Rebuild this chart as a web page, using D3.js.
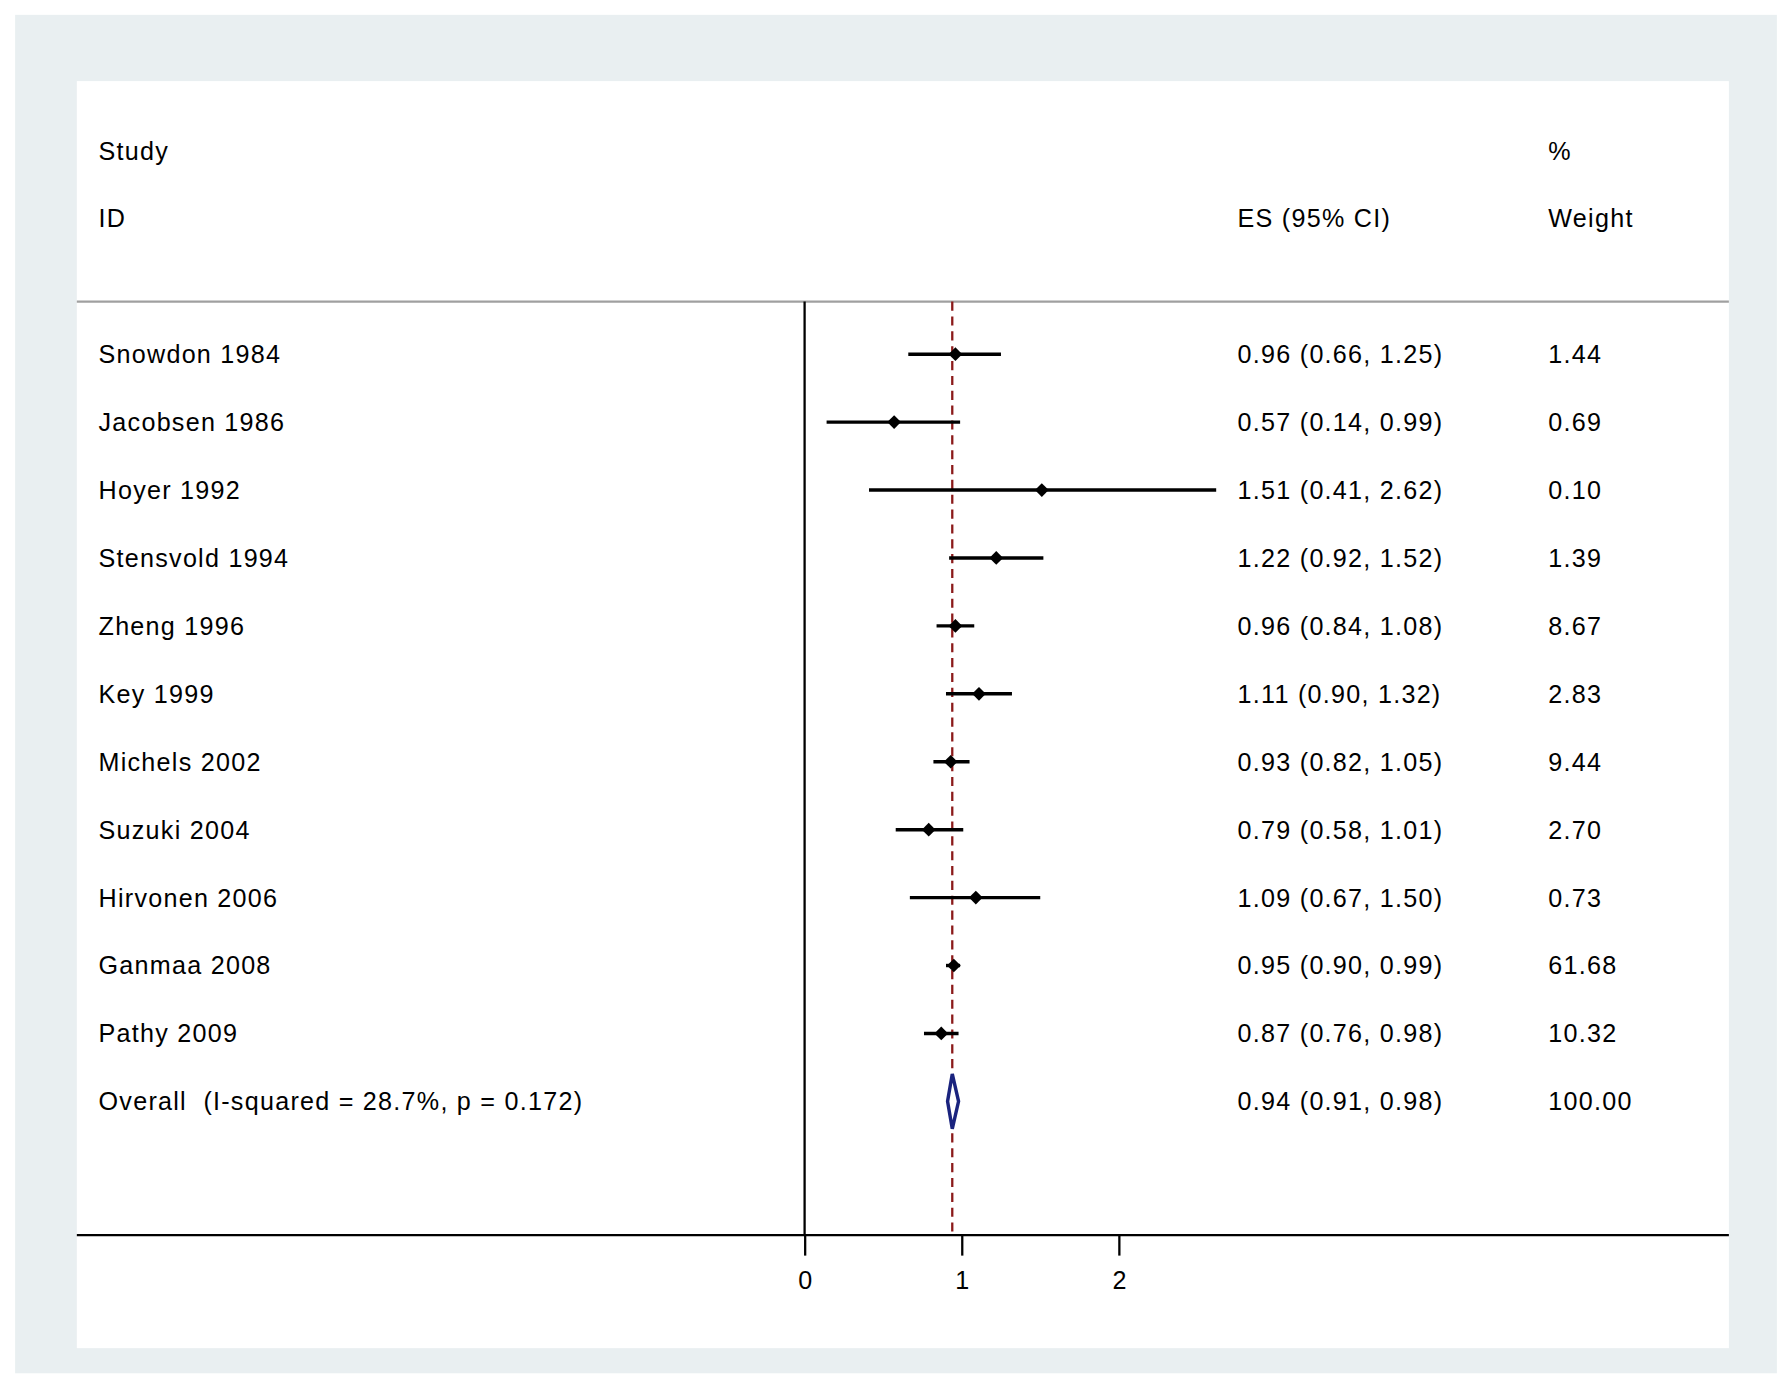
<!DOCTYPE html>
<html><head><meta charset="utf-8">
<script src="https://cdn.jsdelivr.net/npm/d3@7"></script>
<style>body{margin:0;background:#fff}</style></head>
<body><script>
const studies=["Snowdon 1984","Jacobsen 1986","Hoyer 1992","Stensvold 1994","Zheng 1996","Key 1999","Michels 2002","Suzuki 2004","Hirvonen 2006","Ganmaa 2008","Pathy 2009"];
const es=[0.96,0.57,1.51,1.22,0.96,1.11,0.93,0.79,1.09,0.95,0.87];
const lo=[0.66,0.14,0.41,0.92,0.84,0.90,0.82,0.58,0.67,0.90,0.76];
const hi=[1.25,0.99,2.62,1.52,1.08,1.32,1.05,1.01,1.50,0.99,0.98];
const weights=["1.44","0.69","0.10","1.39","8.67","2.83","9.44","2.70","0.73","61.68","10.32"];
const overall={label:"Overall  (I-squared = 28.7%, p = 0.172)",es:0.94,lo:0.91,hi:0.98,w:"100.00"};
const xTicks=[0,1,2];
const fmt=d3.format(".2f");

const svg=d3.select("body").append("svg").attr("width",1792).attr("height",1387).attr("viewBox","0 0 1568 1214");
svg.append("rect").attr("width",1568).attr("height",1214).attr("fill","#fff");
svg.append("rect").attr("x",13).attr("y",13).attr("width",1542).attr("height",1189).attr("fill","#e9eff1");
svg.append("rect").attr("x",67).attr("y",71).attr("width",1446).attr("height",1109).attr("fill","#fff");

const x=d3.scaleLinear().domain([0,2]).range([704,979]);
const rows=studies.concat([overall.label]);
const y=d3.scalePoint().domain(rows).range([310,964]);
const font="Arial, 'Liberation Sans', sans-serif";
const txt=(t,px,py,a)=>svg.append("text").attr("x",px).attr("y",py+2).attr("font-family",font).attr("font-size",22).attr("letter-spacing",1.1).attr("xml:space","preserve").style("white-space","pre").attr("fill","#000").attr("dominant-baseline","middle").attr("text-anchor",a||"start").text(t);

txt("Study",86,132);txt("ID",86,191);txt("ES (95% CI)",1083,191);txt("%",1355,132);txt("Weight",1355,191);
svg.append("line").attr("x1",67).attr("x2",1513).attr("y1",264).attr("y2",264).attr("stroke","#a0a0a0").attr("stroke-width",2);

const ax=svg.append("g").attr("transform","translate(0,1081)").call(d3.axisBottom(x).tickValues(xTicks).tickSize(18).tickFormat(d3.format("d")));
ax.select(".domain").remove();
ax.selectAll("line").attr("stroke","#000").attr("stroke-width",2);
ax.selectAll("text").attr("font-family",font).attr("font-size",22).attr("dy","1.2em");
svg.append("line").attr("x1",67).attr("x2",1513).attr("y1",1081).attr("y2",1081).attr("stroke","#000").attr("stroke-width",2);
svg.append("line").attr("x1",x(0)).attr("x2",x(0)).attr("y1",264).attr("y2",1081).attr("stroke","#000").attr("stroke-width",2);
svg.append("line").attr("x1",x(overall.es)).attr("x2",x(overall.es)).attr("y1",264).attr("y2",1081).attr("stroke","#8b1a1a").attr("stroke-width",2).attr("stroke-dasharray","8,5");

studies.forEach((s,i)=>{
  const yy=y(s);
  txt(s,86,yy);
  txt(`${fmt(es[i])} (${fmt(lo[i])}, ${fmt(hi[i])})`,1083,yy);
  txt(weights[i],1355,yy);
  svg.append("line").attr("x1",x(lo[i])).attr("x2",x(hi[i])).attr("y1",yy).attr("y2",yy).attr("stroke","#000").attr("stroke-width",3);
  const cx=x(es[i]);
  svg.append("path").attr("d",`M${cx-6},${yy}L${cx},${yy-6}L${cx+6},${yy}L${cx},${yy+6}Z`).attr("fill","#000");
});
const oy=y(overall.label);
txt(overall.label,86,oy);
txt(`${fmt(overall.es)} (${fmt(overall.lo)}, ${fmt(overall.hi)})`,1083,oy);
txt(overall.w,1355,oy);
svg.append("path").attr("d",`M${x(overall.lo)},${oy}L${x(overall.es)},${oy-24}L${x(overall.hi)},${oy}L${x(overall.es)},${oy+24}Z`).attr("fill","#fff").attr("stroke","#1a237e").attr("stroke-width",3);
</script></body></html>
